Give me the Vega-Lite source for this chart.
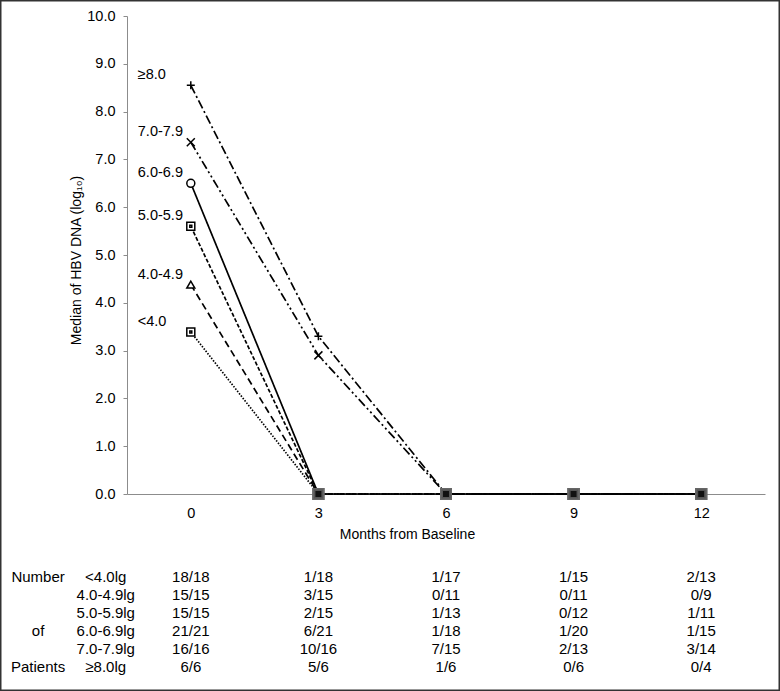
{
  "$schema": "https://vega.github.io/schema/vega-lite/v6.json",
  "width": 780,
  "height": 691,
  "autosize": {"type": "none"},
  "padding": 0,
  "background": "white",
  "config": {
    "font": "Liberation Sans",
    "view": {"stroke": "#333333", "strokeWidth": 3},
    "axis": {"grid": false, "labelColor": "#000", "titleColor": "#000", "titleFontWeight": "normal", "domainColor": "#8c8c8c", "tickColor": "#8c8c8c", "labelFontSize": 14.5, "titleFontSize": 14}
  },
  "datasets": {
    "series": [
      {"series": "≥8.0", "month": 0, "value": 8.55},
      {"series": "≥8.0", "month": 3, "value": 3.3},
      {"series": "≥8.0", "month": 6, "value": 0},
      {"series": "≥8.0", "month": 9, "value": 0},
      {"series": "≥8.0", "month": 12, "value": 0},
      {"series": "7.0-7.9", "month": 0, "value": 7.36},
      {"series": "7.0-7.9", "month": 3, "value": 2.9},
      {"series": "7.0-7.9", "month": 6, "value": 0},
      {"series": "7.0-7.9", "month": 9, "value": 0},
      {"series": "7.0-7.9", "month": 12, "value": 0},
      {"series": "6.0-6.9", "month": 0, "value": 6.5},
      {"series": "6.0-6.9", "month": 3, "value": 0},
      {"series": "6.0-6.9", "month": 6, "value": 0},
      {"series": "6.0-6.9", "month": 9, "value": 0},
      {"series": "6.0-6.9", "month": 12, "value": 0},
      {"series": "5.0-5.9", "month": 0, "value": 5.6},
      {"series": "5.0-5.9", "month": 3, "value": 0},
      {"series": "5.0-5.9", "month": 6, "value": 0},
      {"series": "5.0-5.9", "month": 9, "value": 0},
      {"series": "5.0-5.9", "month": 12, "value": 0},
      {"series": "4.0-4.9", "month": 0, "value": 4.38},
      {"series": "4.0-4.9", "month": 3, "value": 0},
      {"series": "4.0-4.9", "month": 6, "value": 0},
      {"series": "4.0-4.9", "month": 9, "value": 0},
      {"series": "4.0-4.9", "month": 12, "value": 0},
      {"series": "<4.0", "month": 0, "value": 3.39},
      {"series": "<4.0", "month": 3, "value": 0},
      {"series": "<4.0", "month": 6, "value": 0},
      {"series": "<4.0", "month": 9, "value": 0},
      {"series": "<4.0", "month": 12, "value": 0}
    ],
    "table": [
      {"group": "<4.0lg", "month": 0, "text": "18/18"},
      {"group": "<4.0lg", "month": 3, "text": "1/18"},
      {"group": "<4.0lg", "month": 6, "text": "1/17"},
      {"group": "<4.0lg", "month": 9, "text": "1/15"},
      {"group": "<4.0lg", "month": 12, "text": "2/13"},
      {"group": "4.0-4.9lg", "month": 0, "text": "15/15"},
      {"group": "4.0-4.9lg", "month": 3, "text": "3/15"},
      {"group": "4.0-4.9lg", "month": 6, "text": "0/11"},
      {"group": "4.0-4.9lg", "month": 9, "text": "0/11"},
      {"group": "4.0-4.9lg", "month": 12, "text": "0/9"},
      {"group": "5.0-5.9lg", "month": 0, "text": "15/15"},
      {"group": "5.0-5.9lg", "month": 3, "text": "2/15"},
      {"group": "5.0-5.9lg", "month": 6, "text": "1/13"},
      {"group": "5.0-5.9lg", "month": 9, "text": "0/12"},
      {"group": "5.0-5.9lg", "month": 12, "text": "1/11"},
      {"group": "6.0-6.9lg", "month": 0, "text": "21/21"},
      {"group": "6.0-6.9lg", "month": 3, "text": "6/21"},
      {"group": "6.0-6.9lg", "month": 6, "text": "1/18"},
      {"group": "6.0-6.9lg", "month": 9, "text": "1/20"},
      {"group": "6.0-6.9lg", "month": 12, "text": "1/15"},
      {"group": "7.0-7.9lg", "month": 0, "text": "16/16"},
      {"group": "7.0-7.9lg", "month": 3, "text": "10/16"},
      {"group": "7.0-7.9lg", "month": 6, "text": "7/15"},
      {"group": "7.0-7.9lg", "month": 9, "text": "2/13"},
      {"group": "7.0-7.9lg", "month": 12, "text": "3/14"},
      {"group": "≥8.0lg", "month": 0, "text": "6/6"},
      {"group": "≥8.0lg", "month": 3, "text": "5/6"},
      {"group": "≥8.0lg", "month": 6, "text": "1/6"},
      {"group": "≥8.0lg", "month": 9, "text": "0/6"},
      {"group": "≥8.0lg", "month": 12, "text": "0/4"}
    ],
    "heads": [
      {"group": "<4.0lg", "head": "Number"},
      {"group": "6.0-6.9lg", "head": "of"},
      {"group": "≥8.0lg", "head": "Patients"}
    ]
  },
  "layer": [
    {
      "layer": [
        {
          "data": {"name": "series"},
          "mark": {"type": "line", "color": "black", "strokeWidth": 1.7},
          "encoding": {
            "x": {"field": "month", "type": "quantitative", "scale": {"domain": [-1.5, 13.5], "range": [127, 765], "nice": false}, "title": "Months from Baseline",
              "axis": {"values": [0, 3, 6, 9, 12], "offset": -197, "ticks": false, "labelPadding": 12, "titlePadding": 8, "titleX": 407}},
            "y": {"field": "value", "type": "quantitative", "scale": {"domain": [0, 10], "range": [494, 16], "nice": false}, "title": "Median of HBV DNA (log₁₀)",
              "axis": {"values": [0, 1, 2, 3, 4, 5, 6, 7, 8, 9, 10], "format": ".1f", "offset": -127, "tickSize": 4, "labelPadding": 8, "titlePadding": 3, "titleY": 260}},
            "detail": {"field": "series"},
            "strokeDash": {"field": "series", "type": "nominal", "legend": null,
              "scale": {"domain": ["≥8.0", "7.0-7.9", "6.0-6.9", "5.0-5.9", "4.0-4.9", "<4.0"],
                "range": [[9, 3, 2, 3], [9, 3, 2, 3, 2, 3], [1, 0], [4, 2], [7, 4], [1.5, 1.5]]}}
          }
        },
        {
          "data": {"name": "series"},
          "transform": [{"filter": "datum.value > 0"}],
          "mark": {"type": "point", "fill": "white", "fillOpacity": 1, "stroke": "black", "strokeWidth": 1.5, "size": 64},
          "encoding": {
            "x": {"field": "month", "type": "quantitative", "scale": {"domain": [-1.5, 13.5], "range": [127, 765], "nice": false}, "title": "Months from Baseline"},
            "y": {"field": "value", "type": "quantitative", "scale": {"domain": [0, 10], "range": [494, 16], "nice": false}, "title": "Median of HBV DNA (log₁₀)"},
            "shape": {"field": "series", "type": "nominal", "legend": null,
              "scale": {"domain": ["≥8.0", "7.0-7.9", "6.0-6.9", "5.0-5.9", "4.0-4.9", "<4.0"],
                "range": ["M-1,0H1M0,-1V1", "M-1,-1L1,1M-1,1L1,-1", "circle", "M-1,-1H1V1H-1Z M-0.25,-0.25H0.25V0.25H-0.25Z", "triangle-up", "M-1,-1H1V1H-1Z M-0.25,-0.25H0.25V0.25H-0.25Z"]}}
          }
        },
        {
          "data": {"name": "series"},
          "transform": [{"filter": "datum.value == 0"}],
          "mark": {"type": "square", "color": "#111", "stroke": "#666", "strokeWidth": 3, "strokeOpacity": 0.8, "size": 80, "opacity": 1},
          "encoding": {
            "x": {"field": "month", "type": "quantitative", "scale": {"domain": [-1.5, 13.5], "range": [127, 765], "nice": false}, "title": "Months from Baseline"},
            "y": {"field": "value", "type": "quantitative", "scale": {"domain": [0, 10], "range": [494, 16], "nice": false}, "title": "Median of HBV DNA (log₁₀)"}
          }
        },
        {
          "data": {"name": "series"},
          "transform": [{"filter": "datum.month == 0"}],
          "mark": {"type": "text", "align": "left", "baseline": "middle", "dx": -53, "dy": -10, "fontSize": 14.5, "color": "black"},
          "encoding": {
            "x": {"field": "month", "type": "quantitative", "scale": {"domain": [-1.5, 13.5], "range": [127, 765], "nice": false}, "title": "Months from Baseline"},
            "y": {"field": "value", "type": "quantitative", "scale": {"domain": [0, 10], "range": [494, 16], "nice": false}, "title": "Median of HBV DNA (log₁₀)"},
            "text": {"field": "series"}
          }
        }
      ]
    },
    {
      "layer": [
        {
          "data": {"name": "table"},
          "mark": {"type": "text", "align": "center", "baseline": "middle", "fontSize": 15, "color": "black"},
          "encoding": {
            "x": {"field": "month", "type": "quantitative", "scale": {"domain": [-1.5, 13.5], "range": [127, 765], "nice": false}, "title": "Months from Baseline"},
            "y": {"field": "group", "type": "ordinal", "axis": null, "scale": {"type": "point", "padding": 0, "domain": ["<4.0lg", "4.0-4.9lg", "5.0-5.9lg", "6.0-6.9lg", "7.0-7.9lg", "≥8.0lg"], "range": [577, 667]}},
            "text": {"field": "text"}
          }
        },
        {
          "data": {"name": "table"},
          "transform": [{"filter": "datum.month == 0"}],
          "mark": {"type": "text", "align": "center", "baseline": "middle", "fontSize": 15, "color": "black"},
          "encoding": {
            "x": {"datum": -2.0},
            "y": {"field": "group", "type": "ordinal", "axis": null, "scale": {"type": "point", "padding": 0, "domain": ["<4.0lg", "4.0-4.9lg", "5.0-5.9lg", "6.0-6.9lg", "7.0-7.9lg", "≥8.0lg"], "range": [577, 667]}},
            "text": {"field": "group"}
          }
        },
        {
          "data": {"name": "heads"},
          "mark": {"type": "text", "align": "center", "baseline": "middle", "fontSize": 15, "color": "black"},
          "encoding": {
            "x": {"datum": -3.59},
            "y": {"field": "group", "type": "ordinal", "axis": null, "scale": {"type": "point", "padding": 0, "domain": ["<4.0lg", "4.0-4.9lg", "5.0-5.9lg", "6.0-6.9lg", "7.0-7.9lg", "≥8.0lg"], "range": [577, 667]}},
            "text": {"field": "head"}
          }
        }
      ]
    }
  ],
  "resolve": {"scale": {"y": "independent"}}
}
